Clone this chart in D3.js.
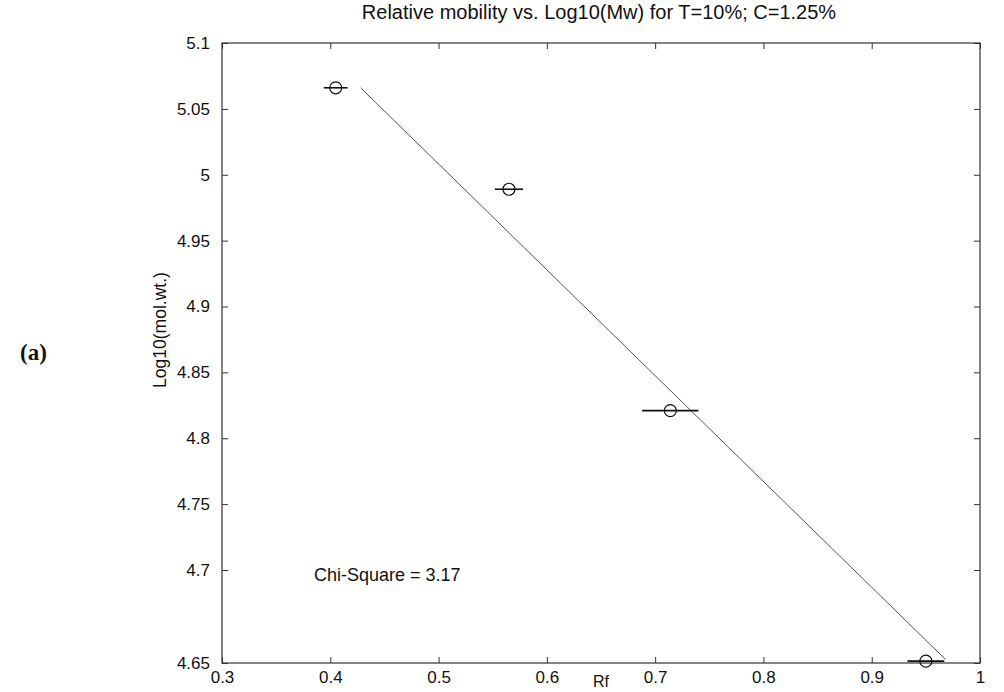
<!DOCTYPE html>
<html>
<head>
<meta charset="utf-8">
<script src="https://cdn.jsdelivr.net/npm/d3@7"></script>
<style>
  body { margin: 0; background: #fff; }
  text { font-family: "Liberation Sans", Arial, Helvetica, sans-serif; fill: #111; }
</style>
</head>
<body>
<div class="chart"></div>
<script>
// data
var rf = [0.405, 0.565, 0.714, 0.950];
var logMw = [5.066, 4.989, 4.821, 4.651];
var rfErr = [0.011, 0.013, 0.026, 0.017];

// least squares line, its two ends
var fitRf = [0.428, 0.968];
var fitLogMw = [5.066, 4.652];

var xTicks = [0.3, 0.4, 0.5, 0.6, 0.7, 0.8, 0.9, 1];
var xTickLabels = ["0.3", "0.4", "0.5", "0.6", "0.7", "0.8", "0.9", "1"];
var yTicks = [4.65, 4.7, 4.75, 4.8, 4.85, 4.9, 4.95, 5, 5.05, 5.1];
var yTickLabels = ["4.65", "4.7", "4.75", "4.8", "4.85", "4.9", "4.95", "5", "5.05", "5.1"];

var svgWidth = 1004;
var svgHeight = 692;

var margin = { top: 43, right: 24, bottom: 29, left: 222 };
var width = svgWidth - margin.left - margin.right;
var height = svgHeight - margin.top - margin.bottom;

var svg = d3.select(".chart").append("svg")
  .attr("width", svgWidth)
  .attr("height", svgHeight);

var chartGroup = svg.append("g")
  .attr("transform", `translate(${margin.left}, ${margin.top})`);

// x is linear, the scanned y axis is stretched below 4.7
var xScale = d3.scaleLinear().domain([0.3, 1]).range([0, width]);
var yScale = d3.scaleLinear().domain([4.65, 4.7, 5.1]).range([height, height - 93, 0]);

// axes, ticks pointing inward like matlab
var bottomAxis = d3.axisBottom(xScale).tickValues(xTicks)
  .tickFormat((d, i) => xTickLabels[i]).tickSizeInner(-6).tickSizeOuter(0).tickPadding(8);
var topAxis = d3.axisTop(xScale).tickValues(xTicks)
  .tickFormat("").tickSizeInner(-6).tickSizeOuter(0);
var leftAxis = d3.axisLeft(yScale).tickValues(yTicks)
  .tickFormat((d, i) => yTickLabels[i]).tickSizeInner(-6).tickSizeOuter(0).tickPadding(12);
var rightAxis = d3.axisRight(yScale).tickValues(yTicks)
  .tickFormat("").tickSizeInner(-6).tickSizeOuter(0);

var gx = chartGroup.append("g").attr("transform", `translate(0, ${height})`).call(bottomAxis);
var gt = chartGroup.append("g").call(topAxis);
var gy = chartGroup.append("g").call(leftAxis);
var gr = chartGroup.append("g").attr("transform", `translate(${width}, 0)`).call(rightAxis);

[gx, gt, gy, gr].forEach(function(g) {
  g.select(".domain").remove();
  g.selectAll("line").attr("stroke", "#333").attr("stroke-width", 1);
  g.selectAll("text").style("font-size", "17px").attr("fill", "#111");
});

// box round the plot
chartGroup.append("rect")
  .attr("x", 0).attr("y", 0)
  .attr("width", width).attr("height", height)
  .attr("fill", "none")
  .attr("stroke", "#333")
  .attr("stroke-width", 1.2);

// fitted line
var points = rf.map((d, i) => ({ rf: d, mw: logMw[i], err: rfErr[i] }));
var fitLine = fitRf.map((d, i) => ({ rf: d, mw: fitLogMw[i] }));

var line = d3.line().x(d => xScale(d.rf)).y(d => yScale(d.mw));
chartGroup.append("path")
  .datum(fitLine)
  .attr("d", line)
  .attr("fill", "none")
  .attr("stroke", "#555")
  .attr("stroke-width", 1);

// horizontal error bars
chartGroup.selectAll(".err")
  .data(points)
  .enter()
  .append("line")
  .attr("class", "err")
  .attr("x1", d => xScale(d.rf - d.err))
  .attr("x2", d => xScale(d.rf + d.err))
  .attr("y1", d => yScale(d.mw))
  .attr("y2", d => yScale(d.mw))
  .attr("stroke", "#111")
  .attr("stroke-width", 1.6);

// circle markers
chartGroup.selectAll("circle")
  .data(points)
  .enter()
  .append("circle")
  .attr("cx", d => xScale(d.rf))
  .attr("cy", d => yScale(d.mw))
  .attr("r", 6)
  .attr("fill", "none")
  .attr("stroke", "#111")
  .attr("stroke-width", 1.2);

// texts
svg.append("text")
  .attr("x", 599).attr("y", 19)
  .attr("text-anchor", "middle")
  .style("font-size", "20px")
  .text("Relative mobility vs. Log10(Mw) for T=10%; C=1.25%");

svg.append("text")
  .attr("x", 601).attr("y", 687)
  .attr("text-anchor", "middle")
  .style("font-size", "16px")
  .text("Rf");

svg.append("text")
  .attr("transform", "translate(166, 330) rotate(-90)")
  .attr("text-anchor", "middle")
  .style("font-size", "17.5px")
  .text("Log10(mol.wt.)");

chartGroup.append("text")
  .attr("x", xScale(0.385)).attr("y", yScale(4.7) + 11)
  .style("font-size", "18px")
  .text("Chi-Square = 3.17");

svg.append("text")
  .attr("x", 20).attr("y", 360)
  .style("font-family", "'Liberation Serif', 'DejaVu Serif', serif")
  .style("font-size", "23px")
  .style("font-weight", "bold")
  .text("(a)");
</script>
</body>
</html>
